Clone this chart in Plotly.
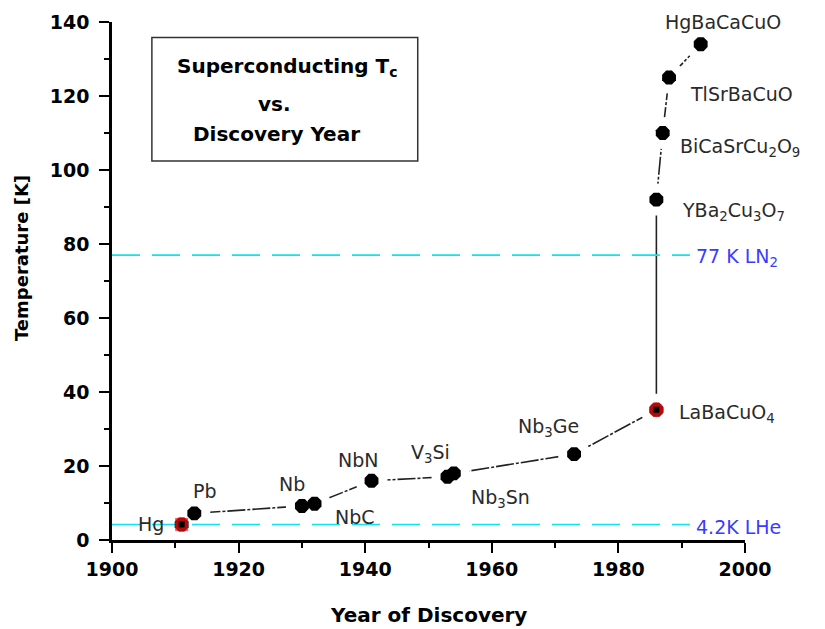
import plotly.graph_objects as go

# ---------------- data ----------------
materials = ["Hg", "Pb", "Nb", "NbC", "NbN", "V3Si", "Nb3Sn", "Nb3Ge",
             "LaBaCuO4", "YBa2Cu3O7", "BiCaSrCu2O9", "TlSrBaCuO", "HgBaCaCuO"]
years = [1911, 1913, 1930, 1932, 1941, 1953, 1954, 1973, 1986, 1986, 1987, 1988, 1993]
tc = [4.2, 7.2, 9.2, 9.8, 16, 17.1, 18, 23.2, 35.2, 92, 110, 125, 134]

highlight_years = [1911, 1986]          # Hg and LaBaCuO4 (red markers)
highlight_tc = [4.2, 35.2]

ref_labels = ["77 K LN<sub>2</sub>", "4.2K LHe"]
ref_tc = [77, 4.2]
ref_line_x = [1900, 1991.3]

x_ticks = [1900, 1920, 1940, 1960, 1980, 2000]
y_ticks = [0, 20, 40, 60, 80, 100, 120, 140]

# label texts and positions (data coordinates)
label_text = ["Hg", "Pb", "Nb", "NbC", "NbN", "V<sub>3</sub>Si", "Nb<sub>3</sub>Sn",
              "Nb<sub>3</sub>Ge", "LaBaCuO<sub>4</sub>", "YBa<sub>2</sub>Cu<sub>3</sub>O<sub>7</sub>",
              "BiCaSrCu<sub>2</sub>O<sub>9</sub>", "TlSrBaCuO", "HgBaCaCuO"]
label_x = [1906.1, 1914.7, 1928.5, 1938.4, 1938.9, 1950.3, 1961.3, 1968.9,
           1989.2, 1989.7, 1989.4, 1991.0, 1996.5]
label_y = [4.2, 13.2, 15.1, 6.1, 21.5, 23.5, 11.2, 30.3, 34.3, 88.8, 106.2, 120.5, 140.0]
label_anchor = ["center"] * 8 + ["left"] * 4 + ["center"]

title_lines = ["Superconducting T<sub>c</sub>", "vs.", "Discovery Year"]

LABEL_FONT = dict(family="DejaVu Sans", size=19, color="#2a2a2a")
BOLD = "DejaVu Sans"

fig = go.Figure()

# dashed connecting line (broken around the solid La->Y jump)
split = materials.index("LaBaCuO4")
dash_x = years[:split + 1] + [None] + years[split + 1:]
dash_y = tc[:split + 1] + [None] + tc[split + 1:]
fig.add_trace(go.Scatter(x=dash_x, y=dash_y, mode="lines",
                         line=dict(color="#222222", width=1.6, dash="18px,2px,3px,2px"),
                         hoverinfo="skip", showlegend=False))
fig.add_trace(go.Scatter(x=years[split:split + 2], y=tc[split:split + 2], mode="lines",
                         line=dict(color="#222222", width=1.6),
                         hoverinfo="skip", showlegend=False))

# white halos so lines stop short of the markers
fig.add_trace(go.Scatter(x=years, y=tc, mode="markers",
                         marker=dict(size=32, color="white", opacity=1, line=dict(width=0)),
                         hoverinfo="skip", showlegend=False))

# reference temperature lines
for t in ref_tc:
    fig.add_trace(go.Scatter(x=ref_line_x, y=[t, t], mode="lines",
                             line=dict(color="#10e4f0", width=1.6, dash="28px,12px"),
                             hoverinfo="skip", showlegend=False))

# data points
fig.add_trace(go.Scatter(x=years, y=tc, mode="markers",
                         marker=dict(size=15, color="black", symbol="octagon",
                                     line=dict(width=0)),
                         showlegend=False))
# red highlighted points
fig.add_trace(go.Scatter(x=highlight_years, y=highlight_tc, mode="markers",
                         marker=dict(size=[13, 15], color="#ff1010",
                                     symbol=["square", "circle"], line=dict(width=0)),
                         showlegend=False))
fig.add_trace(go.Scatter(x=highlight_years, y=highlight_tc, mode="markers",
                         marker=dict(size=6, color="black", symbol="square", line=dict(width=0)),
                         showlegend=False))

# material labels
for txt, lx, ly, anc in zip(label_text, label_x, label_y, label_anchor):
    fig.add_annotation(x=lx, y=ly, text=txt, showarrow=False, xanchor=anc,
                       yanchor="middle", font=LABEL_FONT)

# reference line labels
for txt, t in zip(ref_labels, ref_tc):
    fig.add_annotation(x=ref_line_x[1] + 0.6, y=t - 0.6, text=txt, showarrow=False,
                       xanchor="left", yanchor="middle",
                       font=dict(family="DejaVu Sans", size=19, color="#3b3bff"))

# title box
fig.add_shape(type="rect", x0=1906.3, x1=1948.3, y0=102.4, y1=135.8,
              line=dict(color="#333333", width=1.5), fillcolor="white", layer="above")
title_x = [1927.8, 1925.6, 1926.0]
title_y = [127.8, 117.8, 109.6]
for txt, tx, ty in zip(title_lines, title_x, title_y):
    fig.add_annotation(x=tx, y=ty, text=txt, showarrow=False, xanchor="center",
                       yanchor="middle", font=dict(family=BOLD, size=20, color="black", weight="bold"))

# axis titles
fig.add_annotation(xref="paper", yref="paper", x=-0.144, y=0.544, text="Temperature [K]",
                   textangle=-90, showarrow=False, xanchor="center", yanchor="middle",
                   font=dict(family=BOLD, size=18, color="black", weight="bold"))
fig.add_annotation(xref="paper", yref="paper", x=0.5, y=-0.145, text="Year of Discovery",
                   showarrow=False, xanchor="center", yanchor="middle",
                   font=dict(family=BOLD, size=20, color="black", weight="bold"))

axis_common = dict(showgrid=False, zeroline=False, showline=True, linecolor="black",
                   linewidth=2.5, ticks="outside", ticklen=10, tickwidth=2,
                   tickcolor="black", mirror=False,
                   tickfont=dict(family=BOLD, size=19, color="black", weight="bold"))

fig.update_layout(
    width=825, height=629,
    margin=dict(l=112, r=80, t=22, b=89),
    plot_bgcolor="white", paper_bgcolor="white",
    xaxis=dict(range=[1900, 2000], tickvals=x_ticks,
               minor=dict(dtick=10, ticklen=5, tickwidth=2, tickcolor="black", ticks="outside"),
               **axis_common),
    yaxis=dict(range=[0, 140], tickvals=y_ticks, ticklabelstandoff=6,
               minor=dict(dtick=10, ticklen=5, tickwidth=2, tickcolor="black", ticks="outside"),
               **axis_common),
)

fig.write_html("out.html")
